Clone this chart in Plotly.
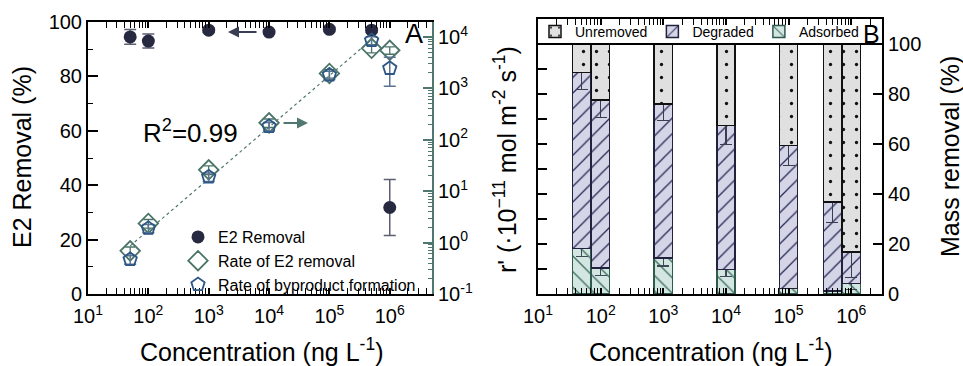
import numpy as np
import plotly.graph_objects as go

# ---------------- data ----------------
conc_a = [50, 100, 1000, 1e4, 1e5, 5e5, 1e6]
e2_removal = [94.5, 93.0, 97.0, 96.3, 97.3, 97.0, 31.8]
e2_removal_err = [2.7, 2.6, 0.8, 0.8, 0.8, 0.8, 10.3]
rate_e2 = [0.69, 2.36, 26, 213, 1950, 6000, 5500]
rate_e2_err = [0.13, 0.45, 5, 40, 370, 1100, 900]
rate_byp = [0.47, 1.9, 19, 182, 1820, 8500, 2450]
rate_byp_err_plus = [0.09, 0.35, 3.6, 34, 340, 1600, 1550]
rate_byp_err_minus = [0.09, 0.35, 3.6, 34, 340, 1600, 1350]

conc_b = [50, 100, 1000, 1e4, 1e5, 5e5, 1e6]
adsorbed = [18.3, 10.5, 14.5, 9.9, 2.2, 1.3, 4.3]
adsorbed_err = [3.2, 3.2, 3.3, 3.0, 3.0, 3.2, 2.5]
degraded = [70.4, 67.1, 61.5, 57.6, 57.3, 35.6, 12.6]
degraded_err = [6.9, 7.0, 6.7, 7.6, 8.0, 8.3, 10.4]
unremoved = [11.3, 22.4, 24.0, 32.5, 40.5, 63.1, 83.1]

x_decades = [1, 2, 3, 4, 5, 6]
r_decades = [-1, 0, 1, 2, 3, 4]

# ---------------- style ----------------
W, H = 963, 366
FONT = "Liberation Sans, Arial, sans-serif"
NAVY = "#262940"
NAVY_ERR = "#5c5e72"
TEAL = "#4b7468"
TEAL_AX = "#507870"
BLUE = "#2c5685"

def px_x(p):
    return p / W

def px_y(p):
    return 1 - p / H

dom_ax = [px_x(88), px_x(432)]
dom_ay = [px_y(294), px_y(22)]
dom_bx = [px_x(538), px_x(882)]
dom_by = [px_y(294), px_y(19)]

# fit line (log-log regression on both rate series, excluding the 1e6 point)
lx = np.log10(np.array(conc_a[:6] + conc_a[:6], dtype=float))
ly = np.log10(np.array(rate_e2[:6] + rate_byp[:6], dtype=float))
slope, icpt = np.polyfit(lx, ly, 1)
fit_x = np.array([conc_a[0], conc_a[5]], dtype=float)
fit_y = 10 ** (icpt + slope * np.log10(fit_x))

fig = go.Figure()

# ---- panel A ----
fig.add_trace(go.Scatter(
    x=fit_x, y=fit_y, mode="lines", xaxis="x", yaxis="y2",
    line=dict(color=TEAL_AX, width=1.2, dash="dot"), showlegend=False, hoverinfo="skip"))

fig.add_trace(go.Scatter(
    x=conc_a, y=e2_removal, mode="markers", name="E2 Removal", xaxis="x", yaxis="y",
    marker=dict(symbol="circle", size=13, color=NAVY),
    error_y=dict(type="data", array=e2_removal_err, color=NAVY_ERR, thickness=1.5, width=6),
    legend="legend"))

fig.add_trace(go.Scatter(
    x=conc_a, y=rate_e2, mode="markers", name="Rate of E2 removal", xaxis="x", yaxis="y2",
    marker=dict(symbol="diamond-open", size=15, color=TEAL, line=dict(width=1.8, color=TEAL)),
    error_y=dict(type="data", array=rate_e2_err, color=TEAL, thickness=1.3, width=5),
    legend="legend"))

fig.add_trace(go.Scatter(
    x=conc_a, y=rate_byp, mode="markers", name="Rate of byproduct formation", xaxis="x", yaxis="y2",
    marker=dict(symbol="pentagon-open", size=14, color=BLUE, line=dict(width=1.8, color=BLUE)),
    error_y=dict(type="data", symmetric=False, array=rate_byp_err_plus,
                 arrayminus=rate_byp_err_minus, color="#5a7390", thickness=1.5, width=6),
    legend="legend"))

# ---- panel B ----
xb = np.log10(np.array(conc_b, dtype=float))
BW = 0.29
fig.add_trace(go.Bar(
    x=xb, y=adsorbed, name="Adsorbed", xaxis="x2", yaxis="y3", width=BW,
    marker=dict(color="#d3e6e2", line=dict(color="#2f5a4e", width=1.5),
                pattern=dict(shape="\\", fgcolor="#3a6a5c", bgcolor="#d3e6e2",
                             size=11, solidity=0.12, fillmode="replace")),
    error_y=dict(type="data", array=adsorbed_err, color="#3e4a55", thickness=1.3, width=6),
    legend="legend2", legendrank=3))
fig.add_trace(go.Bar(
    x=xb, y=degraded, name="Degraded", xaxis="x2", yaxis="y3", width=BW,
    marker=dict(color="#d5d5e8", line=dict(color="#22223f", width=1.5),
                pattern=dict(shape="/", fgcolor="#2a2a55", bgcolor="#d5d5e8",
                             size=11, solidity=0.12, fillmode="replace")),
    error_y=dict(type="data", array=degraded_err, color="#3a3c52", thickness=1.3, width=6),
    legend="legend2", legendrank=2))
fig.add_trace(go.Bar(
    x=xb, y=unremoved, name="Unremoved", xaxis="x2", yaxis="y3", width=BW,
    marker=dict(color="#e0e0e0", line=dict(color="#111111", width=1.5),
                pattern=dict(shape=".", fgcolor="#111111", bgcolor="#e0e0e0",
                             size=13, solidity=0.05, fillmode="replace")),
    legend="legend2", legendrank=1))
# empty helper trace so that the right-hand percent axis of panel B is in use
fig.add_trace(go.Scatter(x=[None], y=[None], xaxis="x2", yaxis="y4", mode="markers",
                         showlegend=False, hoverinfo="skip"))

# ---------------- axes ----------------
tickfont = dict(family=FONT, size=20, color="black")

def sup(n):
    return "10<sup>%d</sup>" % n

log_minor_x = [k * 10.0 ** n for n in range(1, 7) for k in range(2, 10)]
log_minor_r = [k * 10.0 ** n for n in range(-1, 5) for k in range(2, 10)]
lin_minor_x = [float(np.log10(v)) for v in log_minor_x]

common_x = dict(showline=True, linecolor="black", linewidth=2, ticks="inside",
                tickcolor="black", tickwidth=1.5, ticklen=6, mirror="allticks",
                showgrid=False, zeroline=False, tickfont=tickfont, automargin=False,
                ticklabelstandoff=3)

fig.update_layout(
    xaxis=dict(type="log", range=[1, 6.7], domain=dom_ax, anchor="y",
               tickvals=[10.0 ** d for d in x_decades], ticktext=[sup(d) for d in x_decades],
               minor=dict(tickvals=log_minor_x, ticks="inside", ticklen=3,
                          tickcolor="black", tickwidth=1.2, showgrid=False),
               **common_x),
    yaxis=dict(range=[0, 100], domain=dom_ay, anchor="x", side="left",
               tickvals=[0, 20, 40, 60, 80, 100], showline=True, linecolor="black",
               linewidth=2, ticks="inside", ticklen=10, tickwidth=1.5, tickcolor="black",
               minor=dict(tickvals=[10, 30, 50, 70, 90], ticks="inside", ticklen=5,
                          tickcolor="black", tickwidth=1.2, showgrid=False),
               showgrid=False, zeroline=False, tickfont=tickfont, automargin=False),
    yaxis2=dict(type="log", range=[-1, 4.29], overlaying="y", side="right", anchor="x",
                domain=dom_ay,
                tickvals=[10.0 ** d for d in r_decades], ticktext=[sup(d) for d in r_decades],
                showline=True, linecolor=TEAL_AX, linewidth=2, ticks="inside", ticklen=9,
                tickwidth=1.5, tickcolor=TEAL_AX,
                minor=dict(tickvals=log_minor_r, ticks="inside", ticklen=4,
                           tickcolor=TEAL_AX, tickwidth=1.2, showgrid=False),
                showgrid=False, zeroline=False, tickfont=tickfont, automargin=False),
    xaxis2=dict(range=[1, 6.49], domain=dom_bx, anchor="y3",
                tickvals=x_decades, ticktext=[sup(d) for d in x_decades],
                minor=dict(tickvals=lin_minor_x, ticks="inside", ticklen=3,
                           tickcolor="black", tickwidth=1.2, showgrid=False),
                **common_x),
    yaxis3=dict(range=[0, 110], domain=dom_by, anchor="x2", side="left",
                tickvals=[0, 10, 20, 30, 40, 50, 60, 70, 80, 90, 100],
                showticklabels=False, showline=True, linecolor="black", linewidth=2,
                ticks="inside", ticklen=9, tickwidth=1.5, tickcolor="black",
                showgrid=False, zeroline=False, automargin=False),
    yaxis4=dict(range=[0, 110], overlaying="y3", side="right", anchor="x2", domain=dom_by,
                tickvals=[0, 20, 40, 60, 80, 100], showline=True, linecolor="black",
                linewidth=2, ticks="inside", ticklen=9, tickwidth=1.5, tickcolor="black",
                showgrid=False, zeroline=False, tickfont=tickfont, automargin=False),
    barmode="stack",
)

# ---------------- legends ----------------
fig.update_layout(
    legend=dict(x=px_x(178), y=px_y(220), xanchor="left", yanchor="top",
                bgcolor="rgba(0,0,0,0)", borderwidth=0, tracegroupgap=0,
                itemwidth=30, font=dict(family=FONT, size=16, color="black")),
    legend2=dict(orientation="h", x=px_x(535), y=px_y(32), xanchor="left", yanchor="middle",
                 bgcolor="rgba(0,0,0,0)", borderwidth=0, itemwidth=30, traceorder="normal",
                 font=dict(family=FONT, size=14, color="black")),
)

# line under the legend strip in panel B (at 100 %)
fig.add_shape(type="line", xref="x2 domain", x0=0, x1=1, yref="y3", y0=100, y1=100,
              line=dict(color="black", width=2))

# ---------------- text ----------------
def ann(text, x, y, size, angle=0, color="black"):
    fig.add_annotation(text=text, x=px_x(x), y=px_y(y), xref="paper", yref="paper",
                       showarrow=False, textangle=angle, xanchor="center", yanchor="middle",
                       font=dict(family=FONT, size=size, color=color))

ann("E2 Removal (%)", 22, 157, 25, -90)
ann("Concentration (ng L<sup>-1</sup>)", 261, 350, 25)
ann("Concentration (ng L<sup>-1</sup>)", 710, 350, 25)
ann("r' (·10<sup>−11</sup> mol m<sup>-2</sup> s<sup>-1</sup>)", 505, 160, 25, -90)
ann("Mass removal (%)", 950, 157, 25, -90)
ann("R<sup>2</sup>=0.99", 190, 131, 26)
ann("A", 414, 34, 27)
ann("B", 871, 34, 25)

# arrows
fig.add_annotation(text="", x=px_x(228), y=px_y(32), xref="paper", yref="paper",
                   ax=30, ay=0, showarrow=True, arrowhead=2, arrowsize=1.1,
                   arrowwidth=2, arrowcolor="#3a3c52")
fig.add_annotation(text="", x=px_x(308), y=px_y(123), xref="paper", yref="paper",
                   ax=-26, ay=0, showarrow=True, arrowhead=2, arrowsize=1.1,
                   arrowwidth=2, arrowcolor=TEAL_AX)

fig.update_layout(
    width=W, height=H, autosize=False,
    margin=dict(l=0, r=0, t=0, b=0),
    paper_bgcolor="white", plot_bgcolor="rgba(0,0,0,0)",
    font=dict(family=FONT, color="black"),
    template="none",
)

fig.write_html("out.html")
